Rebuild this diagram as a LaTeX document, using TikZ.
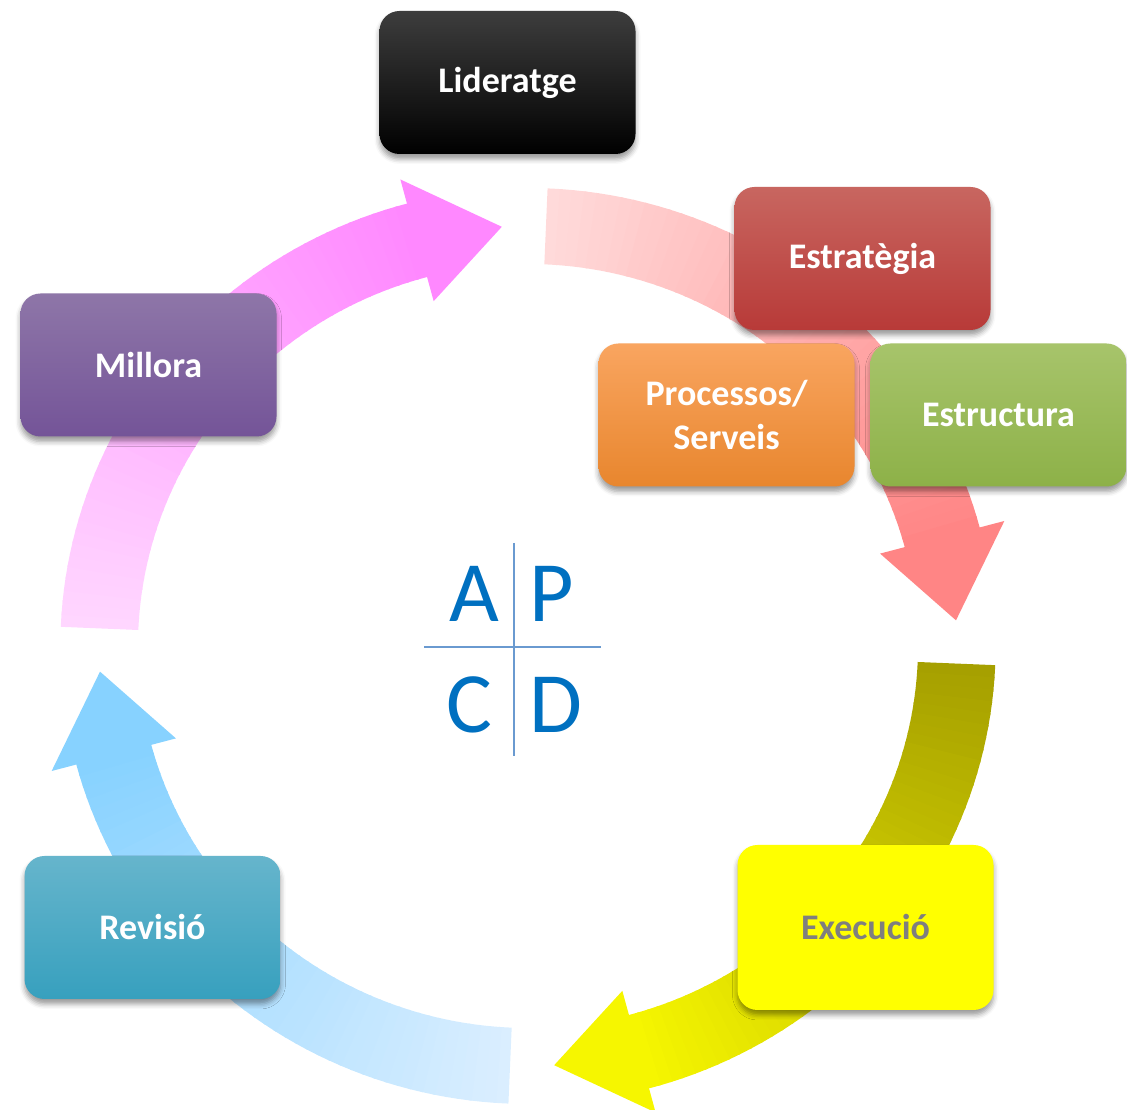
\documentclass[tikz,border=0pt]{standalone}
\usepackage{fontspec}
\setmainfont{Carlito}
\usetikzlibrary{shadows.blur}
\definecolor{magS}{RGB}{255,214,255}
\definecolor{magE}{RGB}{255,136,255}
\definecolor{redS}{RGB}{255,218,218}
\definecolor{redE}{RGB}{255,133,133}
\definecolor{oliS}{RGB}{166,160,0}
\definecolor{oliE}{RGB}{246,246,0}
\definecolor{bluS}{RGB}{218,238,255}
\definecolor{bluE}{RGB}{135,210,255}
\definecolor{estT}{RGB}{200,102,96}
\definecolor{estB}{RGB}{184,58,56}
\definecolor{proT}{RGB}{249,165,96}
\definecolor{proB}{RGB}{232,134,46}
\definecolor{strT}{RGB}{167,196,107}
\definecolor{strB}{RGB}{141,177,72}
\definecolor{revT}{RGB}{102,181,204}
\definecolor{revB}{RGB}{55,160,190}
\definecolor{milT}{RGB}{142,118,168}
\definecolor{milB}{RGB}{116,84,152}
\definecolor{exeY}{RGB}{255,255,0}
\definecolor{apcdblue}{RGB}{0,112,192}
\definecolor{apline}{RGB}{106,154,208}
\definecolor{exegray}{RGB}{127,127,127}
\newcommand{\cyclearrow}[3]{%
\begin{scope}[shift={(528,464)}, xscale=1.021]
 \pgfmathsetmacro{\angS}{#1-2.4}
 \pgfmathsetmacro{\angB}{#1-75}
 \pgfmathsetmacro{\angT}{#1-86.5}
 \foreach \i in {0,...,47}{
   \pgfmathsetmacro{\angP}{\angS+(\angB-\angS)*\i/48}
   \pgfmathsetmacro{\angQ}{\angS+(\angB-\angS)*(\i+1.2)/48}
   \pgfmathtruncatemacro{\pct}{100*\i/47}
   \fill[#3!\pct!#2] (\angP:458) arc[start angle=\angP, end angle=\angQ, radius=458]
      -- (\angQ:382) arc[start angle=\angQ, end angle=\angP, radius=382] -- cycle;
 }
 \fill[#3] (\angB:483) -- (\angT:420) -- (\angB:357) -- cycle;
\end{scope}}
\begin{document}
\begin{tikzpicture}[x=1pt,y=1pt,
  box/.style={rounded corners=20pt, inner sep=0pt, text=white, align=center,
    font=\bfseries\fontsize{36}{44}\selectfont,
    minimum width=256pt, minimum height=143pt,
    blur shadow={shadow xshift=0pt, shadow yshift=-5pt, shadow blur radius=5pt, shadow opacity=40}},
  letter/.style={inner sep=0pt, anchor=base, text=apcdblue, font=\fontsize{86}{86}\selectfont},
  cross/.style={draw=apline, line width=1.4pt}]
\useasboundingbox (0,0) rectangle (1127,1110);
% cycle arrows
\cyclearrow{180}{magS}{magE}
\cyclearrow{90}{redS}{redE}
\cyclearrow{0}{oliS}{oliE}
\cyclearrow{-90}{bluS}{bluE}
% boxes
\node[box, top color=black!76, middle color=black, bottom color=black] (lid) at (507.5,1027.5) {Lideratge};
\node[box, top color=estT, bottom color=estB] (est) at (862.5,851.5) {Estratègia};
\node[box, top color=proT, bottom color=proB] (pro) at (726.5,695) {Processos/\\Serveis};
\node[box, top color=strT, bottom color=strB] (str) at (998.5,695) {Estructura};
\node[box, fill=exeY, text=exegray, minimum height=165pt] (exe) at (865.5,182.5) {Execució};
\node[box, top color=revT, bottom color=revB] (rev) at (152.5,182.5) {Revisió};
\node[box, top color=milT, bottom color=milB] (mil) at (148.5,745) {Millora};
% APCD
\node[letter] (A) at (474,488) {A};
\node[letter] (P) at (552,488) {P};
\node[letter] (C) at (469,377) {C};
\node[letter] (D) at (556,377) {D};
\coordinate (vtop) at (514,567);
\coordinate (vbot) at (514,354);
\coordinate (hleft) at (424,463);
\coordinate (hright) at (601,463);
\draw[cross] (vtop) -- (vbot);
\draw[cross] (hleft) -- (hright);
\end{tikzpicture}
\end{document}
